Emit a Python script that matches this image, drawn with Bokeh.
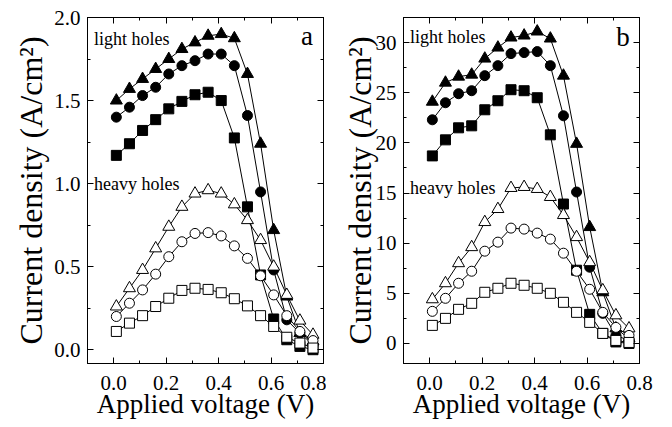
from bokeh.plotting import figure
from bokeh.layouts import row
from bokeh.models import LinearAxis, SingleIntervalTicker, NumeralTickFormatter, Label, Range1d, Title
from bokeh.embed import file_html
from bokeh.resources import INLINE

FONT = "Liberation Serif"

# Applied voltage (V)
voltage = [0.01, 0.06, 0.11, 0.16, 0.21, 0.26, 0.31, 0.36,
           0.41, 0.46, 0.51, 0.56, 0.61, 0.66, 0.71, 0.76]

# Panel a  (A/cm^2)
a_light_tri = [1.50, 1.57, 1.63, 1.69, 1.75, 1.81, 1.85, 1.89, 1.90, 1.875, 1.66, 1.24, 0.72, 0.32, 0.10, 0.05]
a_light_circ = [1.40, 1.46, 1.53, 1.58, 1.66, 1.71, 1.74, 1.78, 1.78, 1.71, 1.41, 0.95, 0.48, 0.18, 0.10, 0.03]
a_light_sq = [1.17, 1.24, 1.32, 1.385, 1.45, 1.495, 1.535, 1.55, 1.50, 1.275, 0.86, 0.45, 0.185, 0.06, 0.02, 0.0]
a_heavy_tri = [0.26, 0.37, 0.48, 0.61, 0.74, 0.86, 0.94, 0.96, 0.94, 0.875, 0.78, 0.66, 0.50, 0.33, 0.175, 0.09]
a_heavy_circ = [0.20, 0.28, 0.36, 0.455, 0.56, 0.65, 0.70, 0.705, 0.685, 0.625, 0.55, 0.445, 0.33, 0.205, 0.11, 0.055]
a_heavy_sq = [0.11, 0.16, 0.205, 0.26, 0.31, 0.357, 0.37, 0.363, 0.343, 0.307, 0.264, 0.205, 0.14, 0.075, 0.04, 0.01]

# Panel b  (A/cm^2)
b_light_tri = [24.1, 26.0, 26.6, 26.8, 28.4, 29.5, 30.5, 30.7, 31.1, 30.4, 26.7, 19.9, 11.6, 5.1, 1.5, 0.5]
b_light_circ = [22.3, 24.0, 24.9, 25.2, 26.7, 27.7, 28.9, 29.0, 29.1, 27.7, 22.7, 15.1, 7.6, 3.0, 0.8, 0.3]
b_light_sq = [18.7, 20.3, 21.5, 21.7, 23.3, 24.2, 25.3, 25.2, 24.5, 20.8, 13.9, 7.3, 2.9, 1.0, 0.15, 0.0]
b_heavy_tri = [4.4, 6.0, 8.0, 9.6, 12.1, 13.4, 15.5, 15.6, 15.4, 14.6, 12.8, 10.6, 8.1, 5.3, 2.8, 1.5]
b_heavy_circ = [3.2, 4.5, 6.0, 7.2, 9.2, 10.1, 11.5, 11.4, 11.0, 10.4, 9.0, 7.2, 5.4, 3.1, 1.6, 0.8]
b_heavy_sq = [1.8, 2.5, 3.4, 4.0, 5.1, 5.5, 6.0, 5.8, 5.5, 5.0, 4.1, 3.1, 2.1, 1.0, 0.3, 0.1]

x_ticks_interval = 0.2
y_label = "Current density (A/cm\u00b2)"
x_label = "Applied voltage (V)"


def style_axis(ax, interval, fmt, labels=True):
    ax.ticker = SingleIntervalTicker(interval=interval, num_minor_ticks=2)
    ax.formatter = NumeralTickFormatter(format=fmt)
    ax.major_tick_in = 6
    ax.major_tick_out = 0
    ax.minor_tick_in = 3
    ax.minor_tick_out = 0
    ax.axis_line_color = "black"
    ax.major_tick_line_color = "black"
    ax.minor_tick_line_color = "black"
    ax.major_label_text_font = FONT
    ax.axis_label_text_font = FONT
    ax.axis_label_text_font_style = "normal"
    ax.axis_label_text_color = "black"
    if labels:
        ax.major_label_text_color = "black"
        ax.major_label_text_font_size = "21px"
        ax.major_label_standoff = 7
    else:
        ax.major_label_text_color = None
        ax.major_label_text_font_size = "0px"
        ax.major_label_standoff = 0


def make_panel(series, yr, yint, yfmt, width, height, bl, br, bt, bb, tag, ylight, yheavy, tagy, ystand):
    p = figure(width=width, height=height, output_backend="svg", toolbar_location=None,
               x_range=Range1d(-0.1, 0.8), y_range=Range1d(*yr),
               min_border_left=bl, min_border_right=br, min_border_top=bt, min_border_bottom=bb)
    p.grid.visible = False
    p.outline_line_color = "black"
    p.outline_line_width = 1
    p.background_fill_color = "white"
    p.border_fill_color = "white"
    style_axis(p.xaxis[0], x_ticks_interval, "0.0")
    style_axis(p.yaxis[0], yint, yfmt)
    p.xaxis[0].major_label_standoff = 12
    p.xaxis[0].axis_label = x_label
    p.xaxis[0].axis_label_text_font_size = "27px"
    p.xaxis[0].axis_label_standoff = -4
    top = LinearAxis()
    style_axis(top, x_ticks_interval, "0.0", labels=False)
    p.add_layout(top, "above")
    right = LinearAxis()
    style_axis(right, yint, yfmt, labels=False)
    p.add_layout(right, "right")

    # y-axis title, shifted slightly downward like the original
    p.add_layout(Title(text=y_label, align="center", offset=-17, standoff=ystand,
                       text_font=FONT, text_font_size="32px", text_font_style="normal",
                       text_color="black"), "left")

    for ys, marker, filled in series:
        p.line(voltage, ys, line_color="black", line_width=1)
    for ys, marker, filled in series:
        size = 12 if marker == "triangle" else 10
        p.scatter(voltage, ys, marker=marker, size=size, line_color="black", line_width=1,
                  fill_color="black" if filled else "white")

    p.add_layout(Label(x=-0.075, y=ylight, text="light holes", text_font=FONT, text_font_size="18px",
                       text_baseline="middle", text_color="black"))
    p.add_layout(Label(x=-0.075, y=yheavy, text="heavy holes", text_font=FONT, text_font_size="18px",
                       text_baseline="middle", text_color="black"))
    p.add_layout(Label(x=0.737, y=tagy, text=tag, text_font=FONT, text_font_size="27px",
                       text_align="center", text_baseline="middle", text_color="black"))
    return p


series_a = [(a_light_tri, "triangle", True), (a_light_circ, "circle", True), (a_light_sq, "square", True),
            (a_heavy_tri, "triangle", False), (a_heavy_circ, "circle", False), (a_heavy_sq, "square", False)]
series_b = [(b_light_tri, "triangle", True), (b_light_circ, "circle", True), (b_light_sq, "square", True),
            (b_heavy_tri, "triangle", False), (b_heavy_circ, "circle", False), (b_heavy_sq, "square", False)]

pa = make_panel(series_a, (-0.083, 2.0), 0.5, "0.0", 326, 427, 87, 3, 15, 62, "a", 1.87, 1.0, 1.89, 5)
pb = make_panel(series_b, (-2.0, 32.5), 5, "0", 346, 427, 77, 33, 17, 64, "b", 30.6, 15.5, 30.6, -11)

layout = row(pa, pb)
open("out.html", "w").write(file_html(layout, INLINE))
